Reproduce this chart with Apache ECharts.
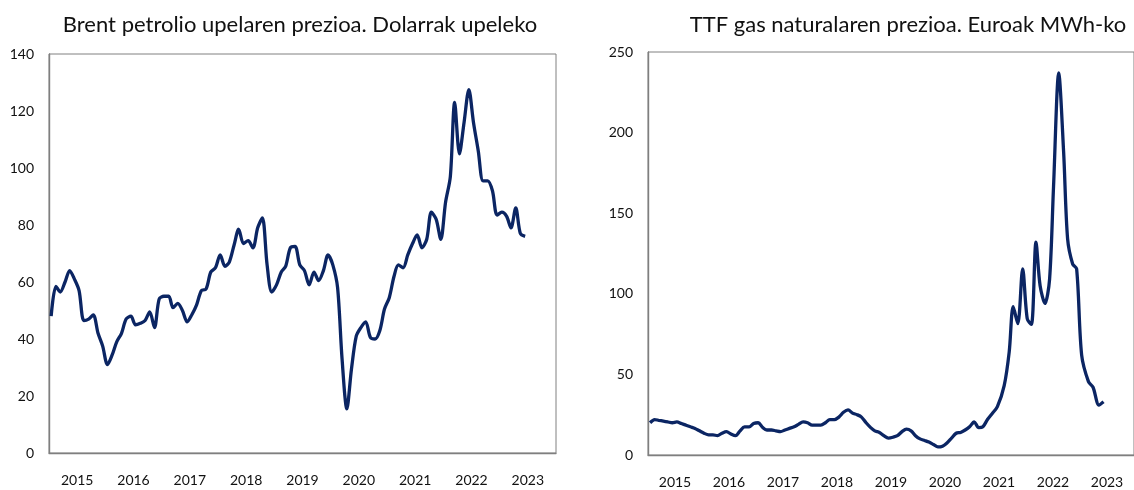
<!DOCTYPE html>
<html><head><meta charset="utf-8">
<script src="https://cdn.jsdelivr.net/npm/echarts@6/dist/echarts.min.js"></script>
<style>html,body{margin:0;padding:0;background:#fff}#c{width:1134px;height:490px}</style>
</head><body><div id="c"></div>
<script>
// ---- DATA ----
const years = ['2015','2016','2017','2018','2019','2020','2021','2022','2023'];
const brentTitle = 'Brent petrolio upelaren prezioa. Dolarrak upeleko';
const ttfTitle = 'TTF gas naturalaren prezioa. Euroak MWh-ko';
const brentTicks = { min: 0, max: 140, step: 20 };
const ttfTicks = { min: 0, max: 250, step: 50 };

// Brent, monthly from Jan 2015 to Jun 2023 (USD per barrel)
const brentValues = [
  48, 58.5, 56.5, 60, 64, 61, 57, 46.5, 47, 48.5, 42, 37.5,      // 2015
  31, 34.5, 39, 42, 47, 48, 45, 45.5, 46.5, 49.5, 44, 54,        // 2016
  55, 55, 51, 52.5, 50, 46, 48.5, 52, 57, 57.5, 63.5, 65,        // 2017
  69.5, 65.5, 67, 73, 78.5, 73.5, 74.5, 72, 79, 82.5, 66, 56.5,  // 2018
  59, 63.5, 65.5, 72, 72.5, 66, 64, 59, 63.5, 60.5, 64, 69.5,    // 2019
  66, 58, 33, 15.5, 29.5, 41, 44, 46, 40.5, 40, 43, 50.5,        // 2020
  54.5, 62, 66, 65, 69.5, 73.5, 76.5, 72, 75, 84.5, 82, 75,      // 2021
  88, 97, 123, 105, 116, 127.5, 116, 106, 95.5, 95.5, 92, 83.5,  // 2022
  84.5, 83, 79, 86, 77, 76                                       // 2023
];

// TTF, monthly from Jan 2015 to May 2021 (EUR per MWh)
const ttfMonthlyValues = [
  20, 22, 21.5, 21, 20.5, 20, 20.5, 19.5, 18.5, 17.5, 16.5, 15,  // 2015
  13.5, 12.5, 12.5, 12, 13.5, 14.5, 13, 12, 15, 17.5, 17.5, 19.5, // 2016
  20, 17, 15.5, 15.5, 15, 14.5, 15.5, 16.5, 17.5, 19, 20.5, 20,  // 2017
  18.5, 18.5, 18.5, 20, 22, 22, 23.5, 26.5, 28, 26, 25, 23.5,    // 2018
  20, 17, 15, 14, 12, 10.5, 11, 12, 14.5, 16, 15, 12,            // 2019
  10, 9, 8, 6.5, 5, 5.5, 7.5, 10.5, 13.5, 14, 15.5, 17.5,        // 2020
  20.5, 17, 17.5, 22, 25.5                                       // 2021
];
// TTF, denser readings from mid-2021 to Jun 2023
const ttfTailDates = [
  '2021-06-21','2021-08-06','2021-09-09','2021-10-06','2021-11-06','2021-12-09',
  '2022-01-09','2022-02-06','2022-03-09','2022-04-06','2022-05-09','2022-06-09',
  '2022-07-06','2022-08-10','2022-09-12','2022-10-09','2022-11-12','2022-12-09',
  '2023-01-12','2023-02-27','2023-03-30','2023-05-09','2023-06-09'
];
const ttfTailValues = [
  30, 43, 64, 92, 81.5, 115.5,
  84.5, 81, 132, 105, 94, 109,
  167, 237, 188, 134, 118.5, 115.5,
  62, 45.5, 42, 31, 33
];

// ---- BUILD ----
function monthDate(idx) { // middle of month idx counted from Jan 2015
  const y = 2015 + Math.floor(idx / 12), m = idx % 12;
  return Date.UTC(y, m, 15);
}
function parseDay(s) { const p = s.split('-').map(Number); return Date.UTC(p[0], p[1]-1, p[2]); }

const brentData = brentValues.map((v, i) => [monthDate(i), v]);
const ttfData = ttfMonthlyValues.map((v, i) => [monthDate(i), v])
  .concat(ttfTailDates.map((d, i) => [parseDay(d), ttfTailValues[i]]));

const FONT = 'Lato, Carlito, Calibri, sans-serif';
const LINE = '#0b2563';
const AXIS = '#7f7f7f';
const TXT = '#111111';
const tMin = Date.UTC(2015, 0, 1), tMax = Date.UTC(2024, 0, 1);

function timeAxis(g) {
  return { type: 'time', gridIndex: g, min: tMin, max: tMax,
    axisLine: { show: true, lineStyle: { color: AXIS, width: 1.4 } },
    axisTick: { show: false }, axisLabel: { show: false }, splitLine: { show: false } };
}
function yearAxis(g) {
  return { type: 'category', gridIndex: g, data: years, position: 'bottom', boundaryGap: true,
    axisLine: { show: false }, axisTick: { show: false }, splitLine: { show: false },
    axisLabel: { margin: 20, fontSize: 14, fontFamily: FONT, color: TXT, interval: 0 } };
}
function valAxis(g, t) {
  return { type: 'value', gridIndex: g, min: t.min, max: t.max, interval: t.step,
    axisLine: { show: true, lineStyle: { color: AXIS, width: 1.4 } },
    axisTick: { show: false }, splitLine: { show: false },
    axisLabel: { margin: 15, fontSize: 14, fontFamily: FONT, color: TXT } };
}

const chart = echarts.init(document.getElementById('c'), null, { renderer: 'canvas' });
chart.setOption({
  animation: false,
  backgroundColor: '#ffffff',
  grid: [
    { left: 49, top: 54, width: 507, height: 399, show: true, borderColor: '#808080', borderWidth: 1 },
    { left: 648, top: 52, width: 492, height: 403, show: true, borderColor: '#808080', borderWidth: 1 }
  ],
  xAxis: [timeAxis(0), yearAxis(0), timeAxis(1), yearAxis(1)],
  yAxis: [valAxis(0, brentTicks), valAxis(1, ttfTicks)],
  series: [
    { type: 'line', xAxisIndex: 0, yAxisIndex: 0, data: brentData, showSymbol: false, smooth: 0.3,
      lineStyle: { color: LINE, width: 3.3 } },
    { type: 'line', xAxisIndex: 2, yAxisIndex: 1, data: ttfData, showSymbol: false, smooth: 0.3,
      lineStyle: { color: LINE, width: 3.3 } }
  ],
  graphic: [
    { type: 'text', x: 300, y: 25, style: { text: brentTitle, fontSize: 22, fontFamily: FONT, fill: TXT, align: 'center', verticalAlign: 'middle' } },
    { type: 'text', x: 908, y: 25, style: { text: ttfTitle, fontSize: 22, fontFamily: FONT, fill: TXT, align: 'center', verticalAlign: 'middle' } }
  ]
});
</script>
</body></html>
